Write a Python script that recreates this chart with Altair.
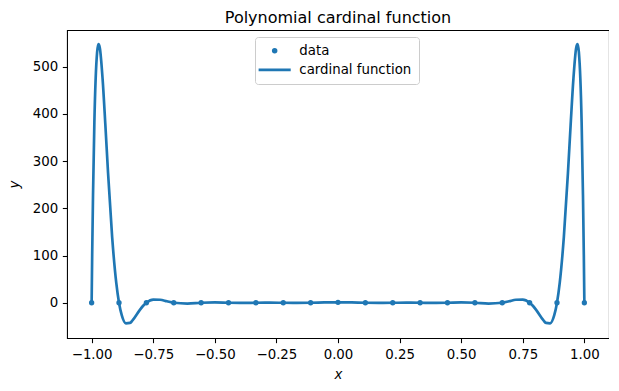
import altair as alt
import pandas as pd

# Interpolation nodes (data points)
node_x = [-1.0, -0.8889, -0.7778, -0.6667, -0.5556, -0.4444, -0.3333, -0.2222, -0.1111, 0.0,
          0.1111, 0.2222, 0.3333, 0.4444, 0.5556, 0.6667, 0.7778, 0.8889, 1.0]
node_y = [0, 0, 0, 0, 0, 0, 0, 0, 0, 1, 0, 0, 0, 0, 0, 0, 0, 0, 0]

# Cardinal function curve
curve_x = [-1.0, -0.9978, -0.9944, -0.9889, -0.9778, -0.9722, -0.9667, -0.9556, -0.9444, -0.9333,
           -0.9167, -0.9, -0.8889, -0.8778, -0.8611, -0.8444, -0.8333, -0.8056, -0.7889, -0.7778,
           -0.75, -0.7222, -0.6944, -0.6667, -0.6111, -0.5556, -0.5, -0.4444, -0.3889, -0.3333,
           -0.2778, -0.2222, -0.1667, -0.1111, -0.0556, 0.0,
           0.0556, 0.1111, 0.1667, 0.2222, 0.2778, 0.3333, 0.3889, 0.4444, 0.5, 0.5556,
           0.6111, 0.6667, 0.6944, 0.7222, 0.75, 0.7778, 0.7889, 0.8056, 0.8333, 0.8444,
           0.8611, 0.8778, 0.8889, 0.9, 0.9167, 0.9333, 0.9444, 0.9556, 0.9667, 0.9722,
           0.9778, 0.9889, 0.9944, 0.9978, 1.0]
curve_y = [0.0, 101.0, 227.6, 381.9, 530.1, 547.5, 539.5, 474.7, 377.7, 274.6,
           138.8, 42.0, 0.0, -26.4, -43.5, -42.7, -36.7, -16.0, -5.33, 0.0,
           6.71, 6.41, 3.14, 0.0, -1.71, 0.0, 0.649, 0.0, -0.339, 0.0,
           0.248, 0.0, -0.269, 0.0, 0.654, 1.0,
           0.654, 0.0, -0.269, 0.0, 0.248, 0.0, -0.339, 0.0, 0.649, 0.0,
           -1.71, 0.0, 3.14, 6.41, 6.71, 0.0, -5.33, -16.0, -36.7, -42.7,
           -43.5, -26.4, 0.0, 42.0, 138.8, 274.6, 377.7, 474.7, 539.5, 547.5,
           530.1, 381.9, 227.6, 101.0, 0.0]

x_ticks = [-1.0, -0.75, -0.5, -0.25, 0.0, 0.25, 0.5, 0.75, 1.0]
y_ticks = [0, 100, 200, 300, 400, 500]
series_names = ["data", "cardinal function"]

BLUE = "#1f77b4"
FONT = "DejaVu Sans"

nodes = pd.DataFrame({"x": node_x, "y": node_y, "series": series_names[0]})
curve = pd.DataFrame({"x": curve_x, "y": curve_y})

xscale = alt.Scale(domain=[-1.1, 1.1], nice=False, zero=False)
yscale = alt.Scale(domain=[-74.6, 577.5], nice=False, zero=False)

xaxis = alt.Axis(values=x_ticks, format=".2f", title="x", grid=False, domain=False,
                 tickSize=4.67, tickWidth=1.07, tickColor="black", labelPadding=4.67,
                 labelFont=FONT, labelFontSize=13.33, labelColor="black",
                 titleFont=FONT, titleFontSize=13.33, titleFontStyle="italic",
                 titleFontWeight="normal", titleColor="black", titlePadding=7,
                 labelFlush=False)
yaxis = alt.Axis(values=y_ticks, title="y", grid=False, domain=False,
                 tickSize=4.67, tickWidth=1.07, tickColor="black", labelPadding=4.67,
                 labelFont=FONT, labelFontSize=13.33, labelColor="black",
                 titleFont=FONT, titleFontSize=13.33, titleFontStyle="italic",
                 titleFontWeight="normal", titleColor="black", titlePadding=10.5,
                 labelFlush=False)

line = alt.Chart(curve).mark_line(color=BLUE, strokeWidth=2.67, interpolate="monotone").encode(
    x=alt.X("x:Q", scale=xscale, axis=xaxis),
    y=alt.Y("y:Q", scale=yscale, axis=yaxis),
)

line_symbol = "M-5.86,-0.5H5.86V0.5H-5.86Z"

points = alt.Chart(nodes).mark_point(filled=True, size=28, color=BLUE, opacity=1).encode(
    x=alt.X("x:Q", scale=xscale),
    y=alt.Y("y:Q", scale=yscale),
    shape=alt.Shape("series:N",
                    scale=alt.Scale(domain=series_names, range=["circle", line_symbol]),
                    legend=alt.Legend(title=None, orient="none", legendX=188, legendY=7,
                                      padding=7, symbolSize=30, symbolFillColor=BLUE,
                                      symbolStrokeWidth=0, symbolOffset=6, labelOffset=18,
                                      rowPadding=5.3, labelFont=FONT, labelFontSize=13.33,
                                      labelColor="black", fillColor="white",
                                      strokeColor="#cccccc", cornerRadius=3)),
)

chart = alt.layer(line, points).properties(
    width=542, height=308,
    title=alt.TitleParams("Polynomial cardinal function", font=FONT, fontSize=16,
                          fontWeight="normal", color="black", anchor="middle",
                          baseline="alphabetic", offset=6, dy=15),
    autosize=alt.AutoSizeParams(type="none"),
    padding={"left": 59, "top": 22, "right": 0, "bottom": 44},
    background="white",
).configure_view(stroke="black", strokeWidth=1.07)

chart.save("out.html", embed_options={"renderer": "svg", "actions": False})
